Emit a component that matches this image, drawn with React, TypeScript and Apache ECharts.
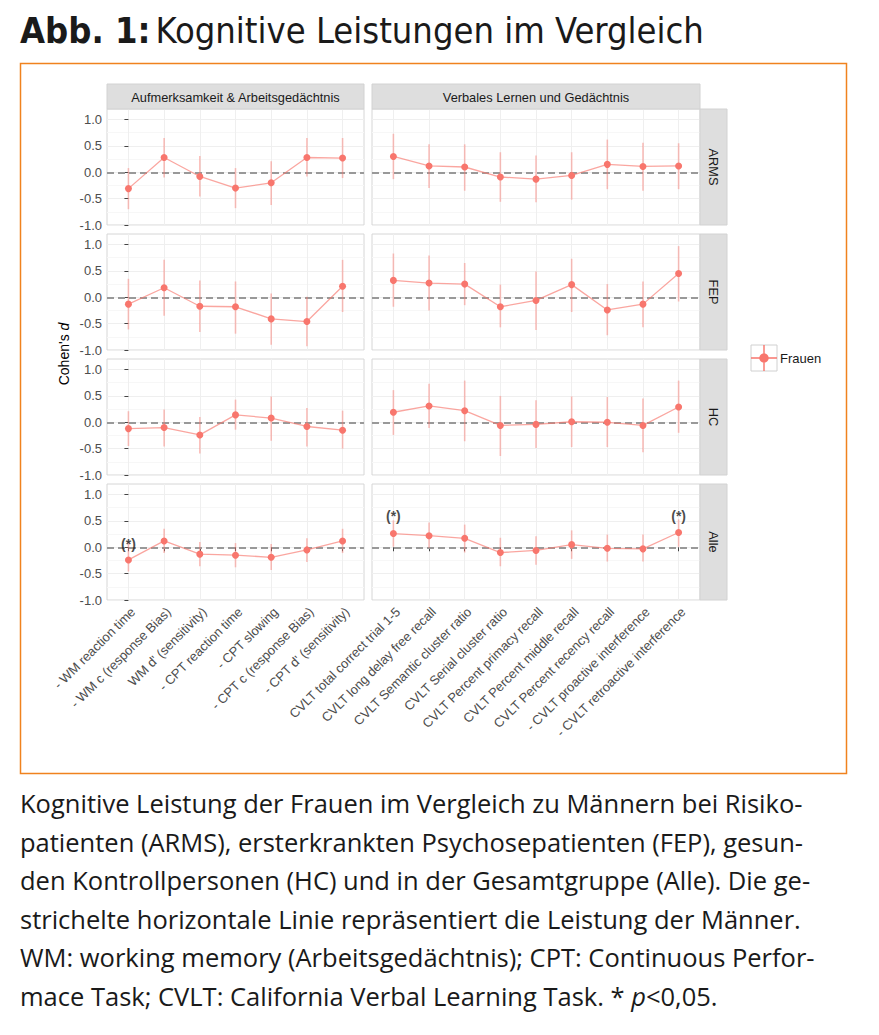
import React, { useEffect, useRef } from 'react';
import * as echarts from 'echarts';

const attentionCategories = [
  '- WM reaction time',
  '- WM c (response Bias)',
  "WM d' (sensitivity)",
  '- CPT reaction time',
  '- CPT slowing',
  '- CPT c (response Bias)',
  "- CPT d' (sensitivity)",
];
const verbalCategories = [
  'CVLT total correct trial 1-5',
  'CVLT long delay free recall',
  'CVLT Semantic cluster ratio',
  'CVLT Serial cluster ratio',
  'CVLT Percent primacy recall',
  'CVLT Percent middle recall',
  'CVLT Percent recency recall',
  '- CVLT proactive interference',
  '- CVLT retroactive interference',
];
const groups = ['ARMS', 'FEP', 'HC', 'Alle'];
const facetTitles = ['Aufmerksamkeit & Arbeitsgedächtnis', 'Verbales Lernen und Gedächtnis'];
const yTicks = [-1, -0.5, 0, 0.5, 1];
const seriesName = 'Frauen';

// [Cohen's d, lower CI, upper CI]
const armsAttention = [[-0.31, -0.7, 0.08], [0.28, -0.1, 0.65], [-0.08, -0.46, 0.31], [-0.3, -0.68, 0.08], [-0.2, -0.62, 0.21], [0.28, -0.08, 0.65], [0.27, -0.11, 0.65]];
const armsVerbal = [[0.3, -0.13, 0.73], [0.12, -0.3, 0.53], [0.1, -0.35, 0.53], [-0.09, -0.56, 0.38], [-0.13, -0.57, 0.32], [-0.06, -0.52, 0.38], [0.15, -0.32, 0.62], [0.11, -0.35, 0.56], [0.12, -0.32, 0.55]];
const fepAttention = [[-0.13, -0.61, 0.35], [0.18, -0.35, 0.71], [-0.17, -0.66, 0.32], [-0.18, -0.69, 0.3], [-0.41, -0.9, 0.07], [-0.46, -0.93, 0.01], [0.21, -0.28, 0.71]];
const fepVerbal = [[0.32, -0.18, 0.83], [0.27, -0.25, 0.79], [0.25, -0.15, 0.65], [-0.18, -0.57, 0.24], [-0.06, -0.62, 0.49], [0.24, -0.28, 0.73], [-0.24, -0.72, 0.25], [-0.13, -0.57, 0.3], [0.45, -0.08, 0.97]];
const hcAttention = [[-0.12, -0.45, 0.21], [-0.1, -0.46, 0.24], [-0.24, -0.59, 0.1], [0.14, -0.14, 0.43], [0.08, -0.35, 0.49], [-0.08, -0.46, 0.27], [-0.15, -0.5, 0.22]];
const hcVerbal = [[0.19, -0.24, 0.61], [0.31, -0.11, 0.73], [0.22, -0.36, 0.79], [-0.06, -0.64, 0.5], [-0.04, -0.49, 0.42], [0.01, -0.47, 0.49], [0.0, -0.47, 0.48], [-0.06, -0.57, 0.45], [0.29, -0.2, 0.79]];
const alleAttention = [[-0.24, -0.46, 0.1], [0.12, -0.11, 0.35], [-0.13, -0.36, 0.1], [-0.15, -0.38, 0.08], [-0.19, -0.43, 0.06], [-0.05, -0.28, 0.17], [0.12, -0.11, 0.35]];
const alleVerbal = [[0.26, 0.01, 0.51], [0.22, -0.01, 0.47], [0.17, -0.1, 0.43], [-0.1, -0.36, 0.18], [-0.06, -0.33, 0.21], [0.05, -0.22, 0.32], [-0.02, -0.27, 0.24], [-0.03, -0.27, 0.24], [0.28, 0.01, 0.53]];

// significance marks "(*)": [row, column, category index, value]
const sigMarks = [[3, 0, 0, 0.07], [3, 1, 0, 0.59], [3, 1, 8, 0.59]];

const captionLines = [
  'Kognitive Leistung der Frauen im Vergleich zu Männern bei Risiko-',
  'patienten (ARMS), ersterkrankten Psychosepatienten (FEP), gesun-',
  'den Kontrollpersonen (HC) und in der Gesamtgruppe (Alle). Die ge-',
  'strichelte horizontale Linie repräsentiert die Leistung der Männer.',
  'WM: working memory (Arbeitsgedächtnis); CPT: Continuous Perfor-',
  'mace Task; CVLT: California Verbal Learning Task. * {i|p}<0,05.',
];

const panelData = [
  [armsAttention, armsVerbal],
  [fepAttention, fepVerbal],
  [hcAttention, hcVerbal],
  [alleAttention, alleVerbal],
];
const panelCats = [attentionCategories, verbalCategories];

const RED = '#F8766D';
const AX = '"Liberation Sans", Arial, sans-serif';
const CAP = '"Open Sans", sans-serif';

function buildOption() {
  const rowTop = [109, 234, 359, 484];
  const rowH = 116;
  const colLeft = [107, 372];
  const colW = [257, 328];
  const grid: any[] = [];
  const xAxis: any[] = [];
  const yAxis: any[] = [];
  const series: any[] = [];
  const graphic: any[] = [];

  for (let r = 0; r < 4; r++) {
    for (let c = 0; c < 2; c++) {
      const idx = r * 2 + c;
      const cats = panelCats[c];
      const data = panelData[r][c];
      const idxs = cats.map((_, i) => i);
      grid.push({
        left: colLeft[c], top: rowTop[r], width: colW[c], height: rowH,
        show: true, borderColor: '#d6d6d6', borderWidth: 1, backgroundColor: '#fff',
        containLabel: false, outerBoundsMode: 'none',
      });
      xAxis.push({
        type: 'value', gridIndex: idx, min: -0.6, max: cats.length - 1 + 0.6,
        axisLine: { show: false },
        axisTick: { show: r === 3, customValues: idxs, length: 4, lineStyle: { color: '#444', width: 1 } },
        axisLabel: {
          show: r === 3, customValues: idxs, rotate: 45, margin: 5,
          align: 'right', verticalAlign: 'top',
          formatter: (v: number) => cats[Math.round(v)] ?? '',
          fontSize: 13, color: '#4d4d4d', fontFamily: AX,
        },
        splitLine: { show: true, lineStyle: { color: '#efefef', width: 1 } },
        minorSplitLine: { show: false },
      });
      yAxis.push({
        type: 'value', gridIndex: idx, min: -1, max: 1.2, interval: 0.5,
        axisLine: { show: false },
        axisTick: { show: c === 0, customValues: yTicks, length: 4, lineStyle: { color: '#444', width: 1 } },
        axisLabel: {
          show: c === 0, customValues: yTicks, margin: 5,
          formatter: (v: number) => v.toFixed(1),
          fontSize: 13, color: '#4d4d4d', fontFamily: AX,
        },
        splitLine: { show: true, lineStyle: { color: '#efefef', width: 1 } },
        minorTick: { show: false, splitNumber: 2 },
        minorSplitLine: { show: true, lineStyle: { color: '#f7f7f7', width: 1 } },
      });
      series.push({
        type: 'custom', name: 'ci', xAxisIndex: idx, yAxisIndex: idx, silent: true, z: 2,
        data: data.map((t, i) => [i, t[1], t[2]]),
        encode: { x: 0, y: [1, 2] },
        renderItem: (params: any, api: any) => {
          const x = api.value(0);
          const lo = api.coord([x, api.value(1)]);
          const hi = api.coord([x, api.value(2)]);
          return {
            type: 'line',
            shape: { x1: lo[0], y1: lo[1], x2: hi[0], y2: hi[1] },
            style: { stroke: 'rgba(248,118,109,0.45)', lineWidth: 1.6 },
          };
        },
      });
      series.push({
        type: 'line', name: seriesName, xAxisIndex: idx, yAxisIndex: idx, z: 3,
        data: data.map((t, i) => [i, t[0]]),
        symbol: 'circle', symbolSize: 7, showSymbol: true,
        itemStyle: { color: RED },
        lineStyle: { color: 'rgba(248,118,109,0.65)', width: 1.3 },
        emphasis: { disabled: true },
        markLine: {
          silent: true, symbol: ['none', 'none'], label: { show: false },
          lineStyle: { color: '#999999', width: 2, type: [7, 4] },
          data: [{ yAxis: 0 }],
          z: 1,
        },
      });
      const marks = sigMarks.filter((m) => m[0] === r && m[1] === c);
      if (marks.length) {
        series.push({
          type: 'scatter', name: 'sig', xAxisIndex: idx, yAxisIndex: idx, z: 4, silent: true,
          data: marks.map((m) => [m[2], m[3]]),
          symbol: 'circle', symbolSize: 1, itemStyle: { color: 'rgba(0,0,0,0)' },
          label: { show: true, position: 'inside', formatter: '(*)', fontSize: 14, fontWeight: 'bold', color: '#1a1a1a', fontFamily: AX },
        });
      }
    }
  }

  // orange frame
  graphic.push({
    type: 'rect', z: 0, silent: true,
    shape: { x: 20.5, y: 63.5, width: 826, height: 710 },
    style: { fill: 'none', stroke: '#F0821E', lineWidth: 1.5 },
  });
  // top strips
  facetTitles.forEach((t, c) => {
    graphic.push({
      type: 'rect', z: 1, silent: true,
      shape: { x: colLeft[c], y: 84, width: colW[c], height: 25 },
      style: { fill: '#dedede', stroke: '#d2d2d2', lineWidth: 1 },
    });
    graphic.push({
      type: 'text', z: 2, silent: true,
      x: colLeft[c] + colW[c] / 2, y: 97,
      style: { text: t, fill: '#1a1a1a', fontSize: 12.8, fontFamily: AX, textAlign: 'center', textVerticalAlign: 'middle' },
    });
  });
  // right strips
  groups.forEach((g, r) => {
    graphic.push({
      type: 'rect', z: 1, silent: true,
      shape: { x: 700, y: rowTop[r], width: 27, height: rowH },
      style: { fill: '#dedede', stroke: '#d2d2d2', lineWidth: 1 },
    });
    graphic.push({
      type: 'text', z: 2, silent: true,
      x: 713.5, y: rowTop[r] + rowH / 2, rotation: -Math.PI / 2,
      style: { text: g, fill: '#1a1a1a', fontSize: 12.8, fontFamily: AX, textAlign: 'center', textVerticalAlign: 'middle' },
    });
  });
  // y axis title
  graphic.push({
    type: 'text', z: 2, silent: true,
    x: 64, y: 354, rotation: Math.PI / 2,
    style: {
      text: "Cohen's {i|d}", fill: '#000', fontSize: 14, fontFamily: AX,
      textAlign: 'center', textVerticalAlign: 'middle',
      rich: { i: { fontStyle: 'italic', fontSize: 14, fontFamily: AX, fill: '#000' } },
    },
  });
  // legend key frame
  graphic.push({
    type: 'rect', z: 1, silent: true,
    shape: { x: 751, y: 345, width: 26, height: 26 },
    style: { fill: '#fff', stroke: '#d0d0d0', lineWidth: 1 },
  });
  // caption
  captionLines.forEach((line, i) => {
    graphic.push({
      type: 'text', z: 2, silent: true,
      x: 20, y: 803 + i * 38.6,
      style: {
        text: line, fill: '#1a1a1a', fontSize: 25.5, fontFamily: CAP,
        textAlign: 'left', textVerticalAlign: 'middle',
        rich: { i: { fontStyle: 'italic', fontSize: 25.5, fontFamily: CAP, fill: '#1a1a1a' } },
      },
    });
  });

  return {
    animation: false,
    backgroundColor: '#fff',
    title: {
      text: '{b|Abb. 1:} {n|Kognitive Leistungen im Vergleich}',
      left: 20, top: 12, padding: 0,
      textStyle: {
        rich: {
          b: { fontSize: 36, fontWeight: 'bold', color: '#1a1a1a', fontFamily: '"Liberation Sans Narrow", "DejaVu Sans Condensed", sans-serif' },
          n: { fontSize: 36, fontWeight: 'normal', color: '#1a1a1a', fontFamily: '"Liberation Sans Narrow", "DejaVu Sans Condensed", sans-serif' },
        },
      },
    },
    legend: {
      data: [seriesName], left: 751, top: 345, padding: 0, itemGap: 0,
      itemWidth: 26, itemHeight: 26, z: 10,
      icon: 'path://M2,12.4L24,12.4L24,13.6L2,13.6Z M12.4,2L13.6,2L13.6,24L12.4,24Z M13,9A4,4,0,1,1,12.99,9Z',
      textStyle: { fontSize: 13, color: '#1a1a1a', fontFamily: AX, padding: [0, 0, 0, -2] },
      selectedMode: false,
    },
    grid, xAxis, yAxis, series, graphic,
  };
}

export default function App() {
  const ref = useRef<HTMLDivElement>(null);
  useEffect(() => {
    if (!ref.current) return;
    const chart = echarts.init(ref.current, undefined, { renderer: 'svg' });
    chart.setOption(buildOption() as any);
    return () => chart.dispose();
  }, []);
  return <div ref={ref} style={{ position: 'absolute', left: 0, top: 0, width: 879, height: 1035 }} />;
}
